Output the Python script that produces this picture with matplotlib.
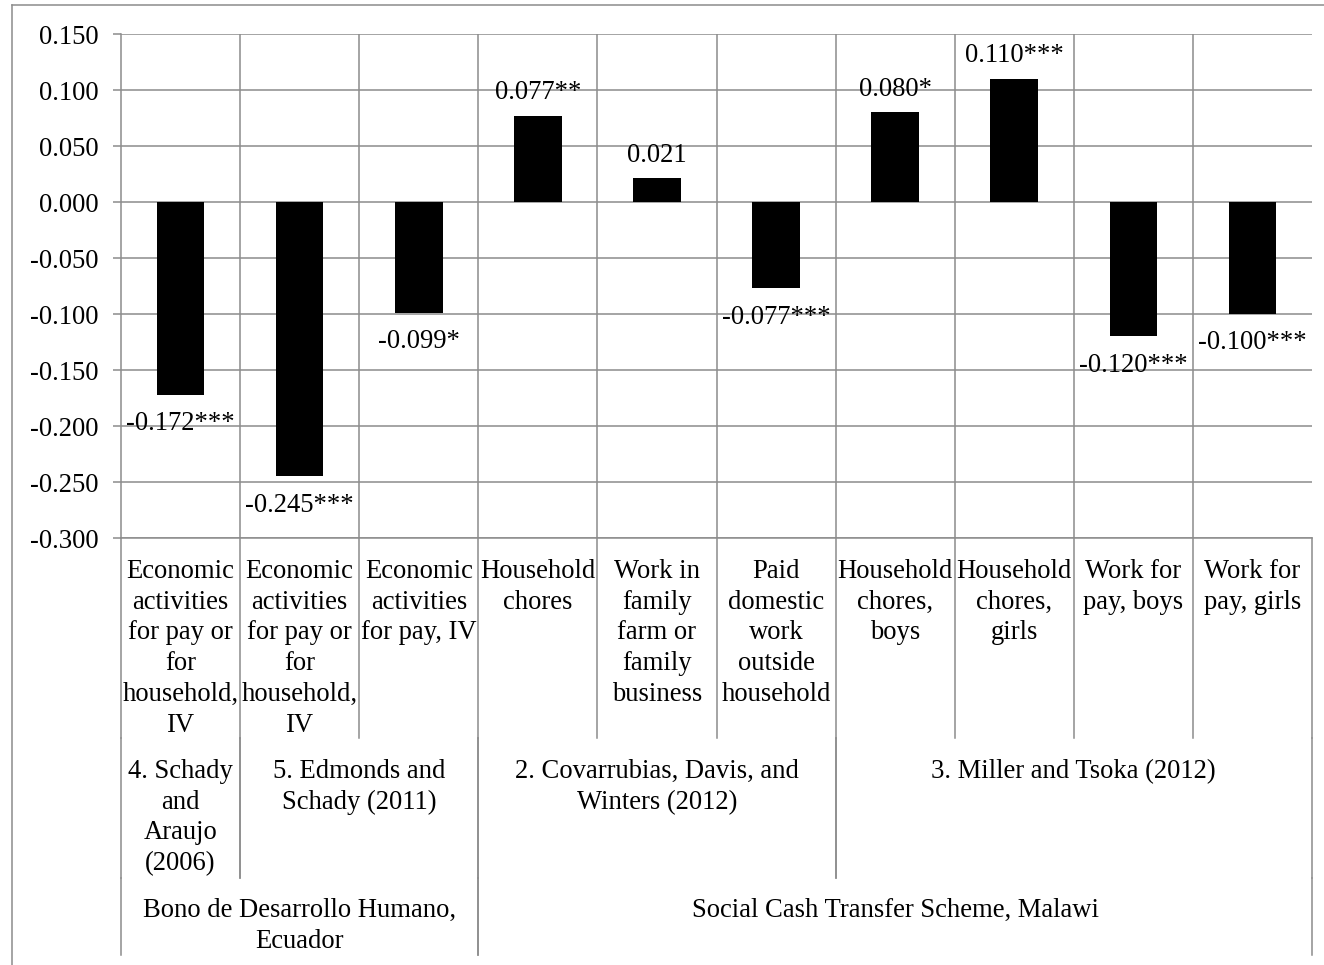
import matplotlib as mpl

mpl.use("agg")
import matplotlib.pyplot as plt
from matplotlib.lines import Line2D
from matplotlib.transforms import blended_transform_factory

plt.rcParams["font.family"] = ["Liberation Serif", "DejaVu Serif"]

# values and labels
values = [-0.172, -0.245, -0.099, 0.077, 0.021, -0.077, 0.080, 0.110, -0.120, -0.100]
stars = ["***", "***", "*", "**", "", "***", "*", "***", "***", "***"]
outcomes = [
    "Economic\nactivities\nfor pay or\nfor\nhousehold,\nIV",
    "Economic\nactivities\nfor pay or\nfor\nhousehold,\nIV",
    "Economic\nactivities\nfor pay, IV",
    "Household\nchores",
    "Work in\nfamily\nfarm or\nfamily\nbusiness",
    "Paid\ndomestic\nwork\noutside\nhousehold",
    "Household\nchores,\nboys",
    "Household\nchores,\ngirls",
    "Work for\npay, boys",
    "Work for\npay, girls",
]
studies = [
    "4. Schady\nand\nAraujo\n(2006)",
    "5. Edmonds and\nSchady (2011)",
    "2. Covarrubias, Davis, and\nWinters (2012)",
    "3. Miller and Tsoka (2012)",
]
study_span = [(0, 0), (1, 2), (3, 5), (6, 9)]
programs = ["Bono de Desarrollo Humano,\nEcuador", "Social Cash Transfer Scheme, Malawi"]
program_span = [(0, 2), (3, 9)]
yticks = [0.15, 0.10, 0.05, 0.0, -0.05, -0.10, -0.15, -0.20, -0.25, -0.30]

W, H = 1324, 965
GRID = "#8c8c8c"
FS = 19.2
LS = 1.30

fig = plt.figure(figsize=(W / 100, H / 100), dpi=100, facecolor="w")
ax = fig.add_axes([121 / W, 1 - 538 / H, (1312 - 121) / W, (538 - 34) / H])

n = len(values)
ax.bar(range(n), values, width=0.4, color="black", zorder=3)
ax.set_xlim(-0.5, n - 0.5)
ax.set_ylim(-0.30, 0.15)

for i, v in enumerate(values):
    off = 12 if v > 0 else -25.5
    ax.annotate(f"{v:.3f}{stars[i]}", (i, v), xytext=(0, off), textcoords="offset points",
                ha="center", va="baseline", fontsize=FS, zorder=4)

ax.set_yticks(yticks)
ax.set_yticklabels([f"{t:.3f}" for t in yticks], fontsize=FS)
ax.tick_params(axis="y", length=5.8, width=1.1, color=GRID, pad=10.5)
ax.tick_params(axis="x", length=0, labelbottom=False)
ax.set_xticks([i + 0.5 for i in range(n - 1)])
ax.grid(True, color=GRID, lw=1.1, zorder=0)
for s in ax.spines.values():
    s.set_color(GRID)
    s.set_linewidth(1.1)
ax.spines["top"].set_visible(False)
ax.spines["right"].set_visible(False)

# category axis below the plot
tr = blended_transform_factory(ax.transData, fig.transFigure)


def fy(px):
    return 1 - px / H


def vline(x, y0, y1):
    fig.add_artist(Line2D([x, x], [fy(y0), fy(y1)], transform=tr, color=GRID, lw=1.1))


for b in range(n + 1):
    vline(b - 0.5, 538, 738)
for a, b in study_span:
    vline(a - 0.5, 738, 878)
    vline(b + 0.5, 738, 878)
for a, b in program_span:
    vline(a - 0.5, 878, 955)
    vline(b + 0.5, 878, 955)

for i, lab in enumerate(outcomes):
    fig.text(i, fy(559), lab, transform=tr, ha="center", va="top", fontsize=FS,
             linespacing=LS)
for (a, b), lab in zip(study_span, studies):
    fig.text((a + b) / 2, fy(759), lab, transform=tr, ha="center", va="top",
             fontsize=FS, linespacing=LS)
for (a, b), lab in zip(program_span, programs):
    fig.text((a + b) / 2, fy(898), lab, transform=tr, ha="center", va="top",
             fontsize=FS, linespacing=LS)

# outer chart frame (left and top edges visible)
fig.add_artist(Line2D([12 / W, 12 / W], [0, fy(5)], color=GRID, lw=1.1))
fig.add_artist(Line2D([12 / W, 1], [fy(5), fy(5)], color=GRID, lw=1.1))

fig.savefig("out.png", dpi=100, facecolor="w")
